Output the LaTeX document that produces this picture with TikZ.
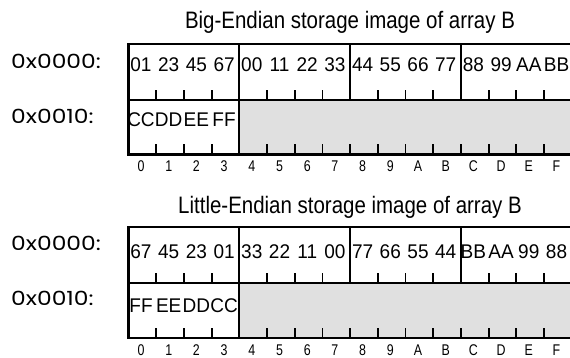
\documentclass[tikz,border=0pt]{standalone}
\usepackage{fontspec}
\setmainfont{Liberation Sans}
\newfontfamily\estrecha[FakeStretch=0.86]{Liberation Sans}
\newfontfamily\media[FakeStretch=0.96]{Liberation Sans}
\newfontfamily\indice[FakeStretch=0.8]{Liberation Sans}
\newfontfamily\ancha[FakeStretch=1.2]{Poppins}
\usepackage{tikz}
\usetikzlibrary{positioning}
\usepackage{xcolor}
\definecolor{relleno}{HTML}{E0E0E0}

\begin{document}
\begin{tikzpicture}[x=1pt, y=-1pt,
      caja/.style={line width=2.2pt},
      marca/.style={line width=1.8pt},
      titulo/.style={font=\estrecha\fontsize{23.8}{24}\selectfont, anchor=base, inner sep=0pt},
      dir/.style={font=\ancha\fontsize{19.5}{20}\selectfont, anchor=base west, inner sep=0pt},
      byte/.style={font=\media\fontsize{19.8}{20}\selectfont, anchor=base, inner sep=0pt},
      idx/.style={font=\indice\fontsize{15.5}{16}\selectfont, anchor=base, inner sep=0pt}]

    \useasboundingbox (0,0) rectangle (570,358);

    % Big-Endian
    \node[titulo] (tbig) at (350,28.3) {Big-Endian storage image of array B};
    \node[dir] (bigA) at (11,68.3) {0x0000:};
    \node[dir] (bigB) at (11,123.3) {0x0010:};

    \fill[relleno] (239.3,100) rectangle (575,154.5);
    \draw[caja] (128.5,44) rectangle (571.7,154.5);
    \draw[caja] (128.5,100) -- (571.7,100);
    \draw[caja] (239.3,44) -- (239.3,154.5);
    \foreach \x in {350.1,460.9}
      \draw[caja] (\x,44) -- (\x,100);
    \foreach \k in {1,2,3,5,6,7,9,10,11,13,14,15}
      \draw[marca] ({128.5+27.7*\k},100) -- ++(0,-10);
    \foreach \k in {1,2,3,5,6,7,8,9,10,11,12,13,14,15}
      \draw[marca] ({128.5+27.7*\k},154.5) -- ++(0,-10);

    \foreach \v [count=\i from 0] in {01,23,45,67,00,11,22,33,44,55,66,77,88,99,AA,BB}
      \node[byte] (bg\i) at ({141+27.7*\i},71.7) {\v};
    \foreach \v [count=\i from 0] in {CC,DD,EE,FF}
      \node[byte] (bh\i) at ({141+27.7*\i},127) {\v};
    \foreach \v [count=\i from 0] in {0,1,2,3,4,5,6,7,8,9,A,B,C,D,E,F}
      \node[idx] (ib\i) at ({141+27.7*\i},171.7) {\v};

    % Little-Endian
    \node[titulo] (tlit) at (350,213.3) {Little-Endian storage image of array B};
    \node[dir] (litA) at (11,250) {0x0000:};
    \node[dir] (litB) at (11,305) {0x0010:};

    \fill[relleno] (239.3,283) rectangle (575,338);
    \draw[caja] (128.5,227) rectangle (571.7,338);
    \draw[caja] (128.5,283) -- (571.7,283);
    \draw[caja] (239.3,227) -- (239.3,338);
    \foreach \x in {350.1,460.9}
      \draw[caja] (\x,227) -- (\x,283);
    \foreach \k in {1,2,3,5,6,7,9,10,11,13,14,15}
      \draw[marca] ({128.5+27.7*\k},283) -- ++(0,-10);
    \foreach \k in {1,2,3,5,6,7,8,9,10,11,12,13,14,15}
      \draw[marca] ({128.5+27.7*\k},338) -- ++(0,-10);

    \foreach \v [count=\i from 0] in {67,45,23,01,33,22,11,00,77,66,55,44,BB,AA,99,88}
      \node[byte] (lg\i) at ({141+27.7*\i},258) {\v};
    \foreach \v [count=\i from 0] in {FF,EE,DD,CC}
      \node[byte] (lh\i) at ({141+27.7*\i},312) {\v};
    \foreach \v [count=\i from 0] in {0,1,2,3,4,5,6,7,8,9,A,B,C,D,E,F}
      \node[idx] (il\i) at ({141+27.7*\i},355.5) {\v};
  \end{tikzpicture}
\end{document}
